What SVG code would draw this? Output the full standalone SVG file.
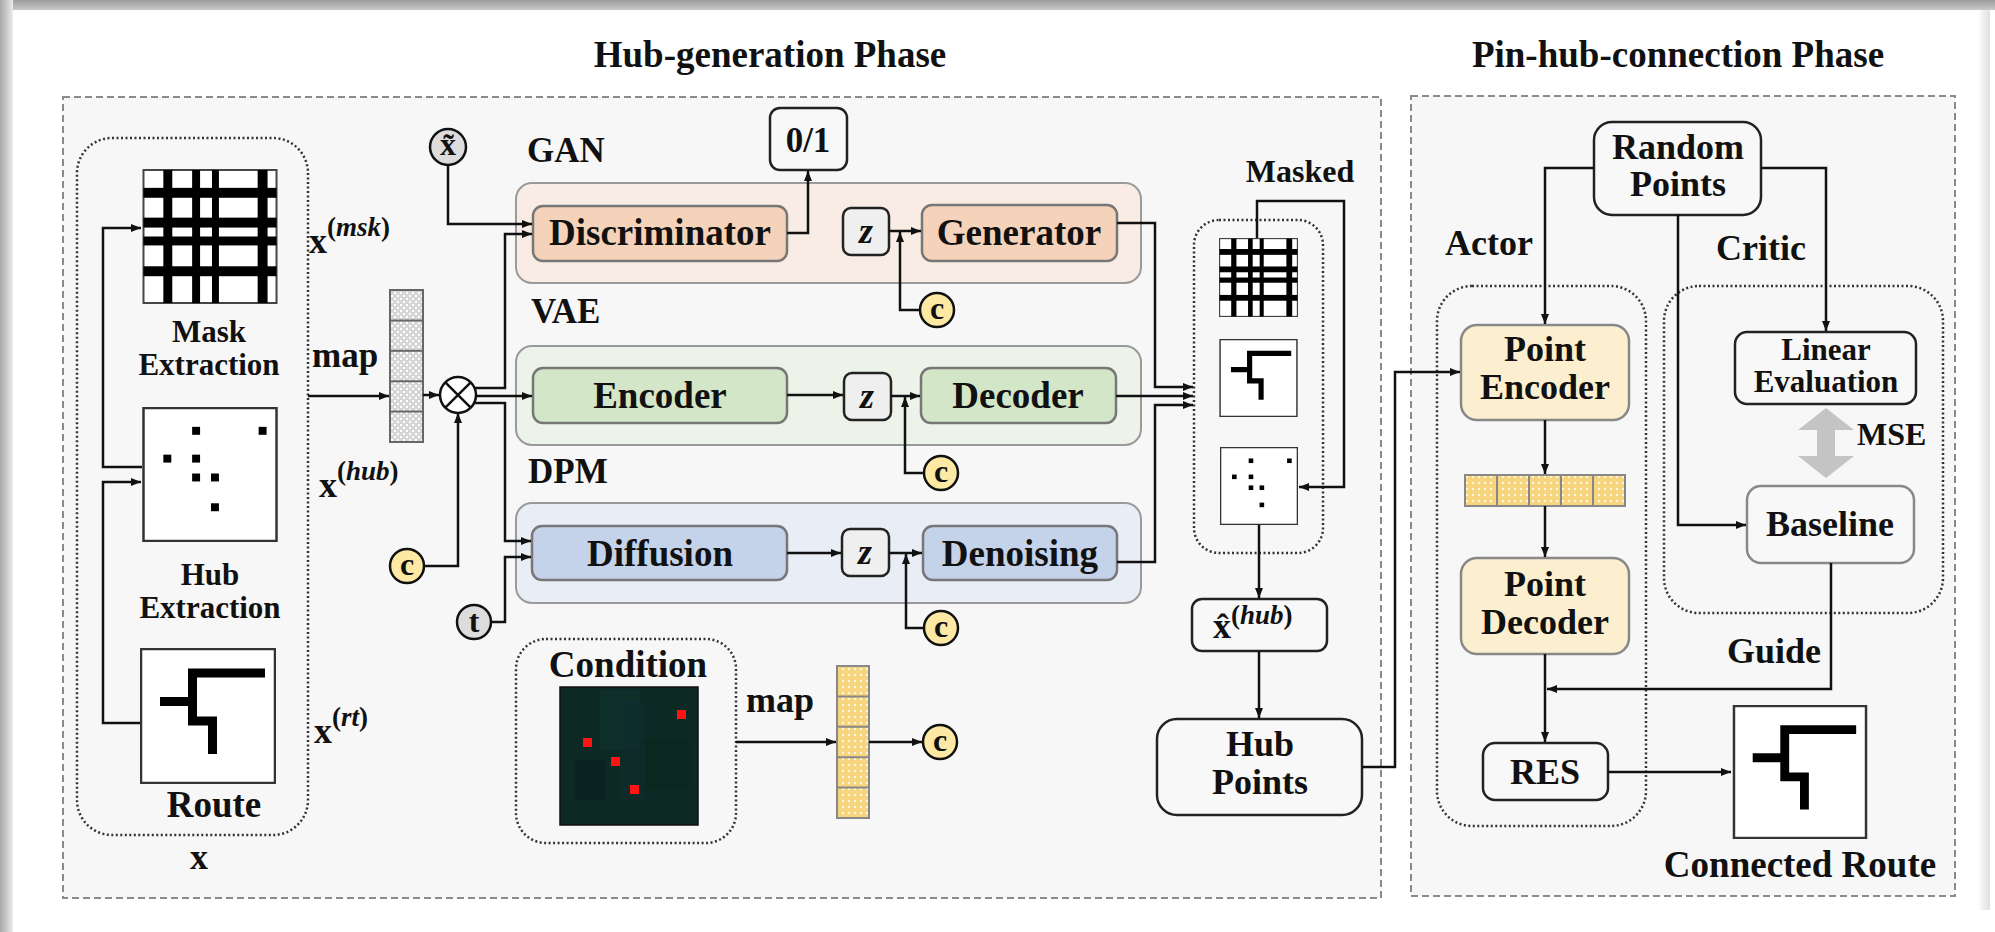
<svg xmlns="http://www.w3.org/2000/svg" width="1995" height="932" viewBox="0 0 1995 932">
<defs>
<style>
.t{font-family:"Liberation Serif","Times New Roman","DejaVu Serif",serif;font-weight:bold;fill:#111;text-anchor:middle}
.l{text-anchor:start}
.s31{font-size:31px}.s32{font-size:32px}.s35{font-size:35px}.s36{font-size:36px}.s37{font-size:37px}
.it{font-style:italic}
.box{fill:#f8f8f8;stroke:#222;stroke-width:2.5}
.dash{fill:#f7f7f7;stroke:#8a8a8a;stroke-width:2;stroke-dasharray:7 4}
.dot{fill:none;stroke:#333;stroke-width:2.5;stroke-dasharray:2 2.5}
.ln{fill:none;stroke:#111;stroke-width:2.5}
.arr{marker-end:url(#ah)}
.zb{fill:#efefef;stroke:#222;stroke-width:2.5}
.cc{fill:#fde8a4;stroke:#111;stroke-width:2.5}
.gc{fill:#dcdcdc;stroke:#111;stroke-width:2.5}
.inner{stroke:#777;stroke-width:2.5}
.cont{stroke:#9a9a9a;stroke-width:2}
</style>
<marker id="ah" viewBox="0 0 10 8" refX="10" refY="4" markerWidth="10" markerHeight="8" markerUnits="userSpaceOnUse" orient="auto"><path d="M0,0 L10,4 L0,8 z" fill="#111"/></marker>
<linearGradient id="gtop" x1="0" y1="0" x2="0" y2="1"><stop offset="0" stop-color="#9c9c9c"/><stop offset="1" stop-color="#c9c9c9"/></linearGradient>
<linearGradient id="gleft" x1="0" y1="0" x2="1" y2="0"><stop offset="0" stop-color="#a8a8a8"/><stop offset="0.6" stop-color="#d0d0d0"/><stop offset="1" stop-color="#ececec"/></linearGradient>
<linearGradient id="gright" x1="0" y1="0" x2="1" y2="0"><stop offset="0" stop-color="#ffffff"/><stop offset="1" stop-color="#dedede"/></linearGradient>
<pattern id="pgray" width="6" height="6" patternUnits="userSpaceOnUse"><rect width="6" height="6" fill="#d6d6d6"/><rect x="1" y="1" width="2" height="2" fill="#fff"/><rect x="4" y="4" width="2" height="2" fill="#fff"/></pattern>
<pattern id="pyel" width="6" height="6" patternUnits="userSpaceOnUse"><rect width="6" height="6" fill="#f6d57e"/><circle cx="3" cy="3" r="1.2" fill="#fff7dc"/></pattern>
<symbol id="mask" viewBox="0 0 136 136">
<rect x="1" y="1" width="134" height="134" fill="#fff" stroke="#444" stroke-width="2"/>
<g fill="#000"><rect x="21" y="1" width="9" height="134"/><rect x="50" y="1" width="8" height="134"/><rect x="70" y="1" width="7" height="134"/><rect x="116" y="1" width="10" height="134"/>
<rect x="1" y="19" width="134" height="10"/><rect x="1" y="49" width="134" height="10"/><rect x="1" y="68" width="134" height="9"/><rect x="1" y="98" width="134" height="10"/></g>
</symbol>
<symbol id="hub" viewBox="0 0 136 136">
<rect x="1" y="1" width="134" height="134" fill="#fff" stroke="#333" stroke-width="2.5"/>
<g fill="#000"><rect x="50" y="20" width="8" height="8"/><rect x="117" y="20" width="8" height="8"/><rect x="21" y="48" width="8" height="8"/><rect x="50" y="48" width="8" height="8"/><rect x="50" y="67" width="8" height="8"/><rect x="69" y="67" width="8" height="8"/><rect x="69" y="97" width="8" height="8"/></g>
</symbol>
<symbol id="route" viewBox="0 0 136 136">
<rect x="1" y="1" width="134" height="134" fill="#fff" stroke="#333" stroke-width="2.5"/>
<path d="M125 25 H52.5 V73 H72.5 V106 M20 53.5 H52.5" fill="none" stroke="#000" stroke-width="9" stroke-linejoin="miter"/>
</symbol>
</defs>

<rect width="1995" height="932" fill="#fff"/>
<rect x="0" y="0" width="1995" height="10" fill="url(#gtop)"/>
<rect x="0" y="0" width="13" height="932" fill="url(#gleft)"/>
<rect x="1978" y="10" width="12" height="900" fill="url(#gright)"/>

<g id="phase-hub-generation">
<rect class="dash" x="63" y="97" width="1318" height="801"/>
<text class="t s37" x="770" y="67">Hub-generation Phase</text>
</g>
<g id="phase-pin-hub">
<rect class="dash" x="1411" y="96" width="544" height="800"/>
<text class="t s37" x="1678" y="67">Pin-hub-connection Phase</text>
</g>

<g id="input-x">
<rect class="dot" x="77" y="138" width="231" height="697" rx="35"/>
<use href="#mask" x="142" y="169" width="136" height="135"/>
<text class="t s31" x="209" y="342">Mask</text>
<text class="t s31" x="209" y="375">Extraction</text>
<use href="#hub" x="142" y="407" width="136" height="135"/>
<text class="t s31" x="210" y="585">Hub</text>
<text class="t s31" x="210" y="618">Extraction</text>
<use href="#route" x="140" y="648" width="136" height="136"/>
<text class="t s37" x="214" y="817">Route</text>
<text class="t s36" x="199" y="869">x</text>
</g>
<g id="labels-x">
<text class="t l s36" x="309" y="253">x<tspan font-size="27" dy="-17">(</tspan><tspan class="it" font-size="27">msk</tspan><tspan font-size="27">)</tspan></text>
<text class="t l s36" x="319" y="497">x<tspan font-size="27" dy="-17">(</tspan><tspan class="it" font-size="27">hub</tspan><tspan font-size="27">)</tspan></text>
<text class="t l s36" x="314" y="743">x<tspan font-size="27" dy="-17">(</tspan><tspan class="it" font-size="27">rt</tspan><tspan font-size="27">)</tspan></text>
<text class="t l s35" x="312" y="367">map</text>
</g>

<g id="map-vector">
<rect x="390" y="290" width="33" height="152" fill="url(#pgray)" stroke="#666" stroke-width="2"/>
<path d="M390 320.4 H423 M390 350.8 H423 M390 381.2 H423 M390 411.6 H423" stroke="#666" stroke-width="2"/>
</g>
<g id="otimes">
<circle cx="458" cy="395" r="18" fill="#fff" stroke="#111" stroke-width="2.5"/>
<path d="M445.3 382.3 L470.7 407.7 M470.7 382.3 L445.3 407.7" stroke="#111" stroke-width="2.5"/>
</g>
<g id="x-tilde"><circle class="gc" cx="448" cy="147" r="18"/><text class="t s32" x="448" y="155">x̃</text></g>
<g id="c-mul"><circle class="cc" cx="407" cy="566" r="17"/><text class="t s32" x="407" y="575">c</text></g>
<g id="t-input"><circle class="gc" cx="474" cy="622" r="17"/><text class="t s32" x="474" y="632">t</text></g>

<g id="gan">
<rect class="cont" x="516" y="183" width="625" height="100" rx="16" fill="#f9ece4"/>
<text class="t l s35" x="527" y="162">GAN</text>
</g>
<g id="discriminator"><rect class="inner" x="533" y="206" width="254" height="55" rx="10" fill="#f5d3ba"/><text class="t s37" x="660" y="245">Discriminator</text></g>
<g id="out01"><rect class="box" x="770" y="108" width="77" height="62" rx="10"/><text class="t s35" x="808" y="152">0/1</text></g>
<g id="z-gan"><rect class="zb" x="843" y="208" width="46" height="47" rx="8"/><text class="t s36 it" x="866" y="243">z</text></g>
<g id="generator"><rect class="inner" x="922" y="205" width="195" height="56" rx="10" fill="#f5d3ba"/><text class="t s37" x="1019" y="245">Generator</text></g>
<g id="c-gan"><circle class="cc" cx="937" cy="310" r="17"/><text class="t s32" x="937" y="319">c</text></g>

<g id="vae">
<rect class="cont" x="516" y="346" width="625" height="99" rx="16" fill="#edf3e9"/>
<text class="t l s35" x="531" y="323">VAE</text>
</g>
<g id="encoder"><rect class="inner" x="533" y="368" width="254" height="55" rx="10" fill="#d3e6c7"/><text class="t s37" x="660" y="408">Encoder</text></g>
<g id="z-vae"><rect class="zb" x="844" y="373" width="47" height="47" rx="8"/><text class="t s36 it" x="867" y="408">z</text></g>
<g id="decoder"><rect class="inner" x="921" y="368" width="195" height="55" rx="10" fill="#d3e6c7"/><text class="t s37" x="1018" y="408">Decoder</text></g>
<g id="c-vae"><circle class="cc" cx="941" cy="473" r="17"/><text class="t s32" x="941" y="482">c</text></g>

<g id="dpm">
<rect class="cont" x="516" y="503" width="625" height="100" rx="16" fill="#e9edf6"/>
<text class="t l s35" x="528" y="483">DPM</text>
</g>
<g id="diffusion"><rect class="inner" x="532" y="526" width="255" height="54" rx="10" fill="#c4d2ea"/><text class="t s37" x="660" y="566">Diffusion</text></g>
<g id="z-dpm"><rect class="zb" x="842" y="529" width="47" height="47" rx="8"/><text class="t s36 it" x="865" y="564">z</text></g>
<g id="denoising"><rect class="inner" x="923" y="526" width="194" height="54" rx="10" fill="#c4d2ea"/><text class="t s37" x="1020" y="566">Denoising</text></g>
<g id="c-dpm"><circle class="cc" cx="941" cy="628" r="17"/><text class="t s32" x="941" y="637">c</text></g>

<g id="condition">
<rect class="dot" x="516" y="639" width="220" height="204" rx="30"/>
<text class="t s37" x="628" y="677">Condition</text>
<rect x="560" y="687" width="138" height="138" fill="#0d2923" stroke="#111" stroke-width="1.5"/>
<rect x="600" y="690" width="40" height="60" fill="#10322d" opacity="0.7"/>
<rect x="640" y="740" width="50" height="50" fill="#0a2620" opacity="0.7"/>
<rect x="575" y="760" width="30" height="40" fill="#0b2221" opacity="0.7"/>
<rect x="620" y="700" width="25" height="100" fill="#0f2c30" opacity="0.5"/>
<g fill="#ff1414"><rect x="677" y="710" width="9" height="9"/><rect x="583" y="738" width="9" height="9"/><rect x="611" y="757" width="9" height="9"/><rect x="630" y="785" width="9" height="9"/></g>
</g>
<g id="cond-map-label"><text class="t l s36" x="746" y="712">map</text></g>
<g id="cond-vector">
<rect x="837" y="666" width="32" height="152" fill="url(#pyel)" stroke="#888" stroke-width="2"/>
<path d="M837 696.4 H869 M837 726.8 H869 M837 757.2 H869 M837 787.6 H869" stroke="#888" stroke-width="2"/>
</g>
<g id="c-cond"><circle class="cc" cx="940" cy="742" r="17"/><text class="t s32" x="940" y="751">c</text></g>

<g id="masked">
<rect class="dot" x="1194" y="220" width="129" height="333" rx="25"/>
<text class="t s32" x="1300" y="182">Masked</text>
<use href="#mask" x="1219" y="238" width="79" height="79"/>
<use href="#route" x="1219" y="339" width="79" height="78"/>
<use href="#hub" x="1220" y="447" width="78" height="78"/>
</g>
<g id="x-hat"><rect class="box" x="1192" y="599" width="135" height="52" rx="10"/><text class="t l s36" x="1213" y="638">x̂<tspan font-size="27" dy="-14">(</tspan><tspan class="it" font-size="27">hub</tspan><tspan font-size="27">)</tspan></text></g>
<g id="hub-points"><rect class="box" x="1157" y="719" width="205" height="96" rx="20"/><text class="t s36" x="1260" y="756">Hub</text><text class="t s36" x="1260" y="794">Points</text></g>

<g id="random-points"><rect class="box" x="1594" y="122" width="167" height="93" rx="18"/><text class="t s36" x="1678" y="159">Random</text><text class="t s36" x="1678" y="196">Points</text></g>
<g id="actor"><rect class="dot" x="1437" y="286" width="209" height="540" rx="35"/><text class="t s36" x="1489" y="255">Actor</text></g>
<g id="critic"><rect class="dot" x="1664" y="286" width="279" height="327" rx="35"/><text class="t s36" x="1761" y="260">Critic</text></g>
<g id="point-encoder"><rect x="1461" y="325" width="168" height="95" rx="16" fill="#fcefcf" stroke="#888" stroke-width="2.5"/><text class="t s36" x="1545" y="361">Point</text><text class="t s36" x="1545" y="399">Encoder</text></g>
<g id="feature-vector">
<rect x="1465" y="475" width="160" height="31" fill="url(#pyel)" stroke="#888" stroke-width="2"/>
<path d="M1497 475 V506 M1529 475 V506 M1561 475 V506 M1593 475 V506" stroke="#888" stroke-width="2"/>
</g>
<g id="point-decoder"><rect x="1461" y="558" width="168" height="96" rx="16" fill="#fcefcf" stroke="#888" stroke-width="2.5"/><text class="t s36" x="1545" y="596">Point</text><text class="t s36" x="1545" y="634">Decoder</text></g>
<g id="res"><rect class="box" x="1483" y="743" width="125" height="57" rx="12"/><text class="t s36" x="1545" y="784">RES</text></g>
<g id="linear-eval"><rect class="box" x="1735" y="332" width="181" height="72" rx="12"/><text class="t s31" x="1826" y="360">Linear</text><text class="t s31" x="1826" y="392">Evaluation</text></g>
<g id="mse">
<polygon points="1826,408 1854,430 1835,430 1835,456 1854,456 1826,478 1798,456 1817,456 1817,430 1798,430" fill="#c4c4c4"/>
<text class="t l s32" x="1857" y="445">MSE</text>
</g>
<g id="baseline"><rect x="1747" y="486" width="167" height="77" rx="14" fill="#f8f8f8" stroke="#888" stroke-width="2.5"/><text class="t s36" x="1830" y="536">Baseline</text></g>
<g id="guide-label"><text class="t s36" x="1774" y="663">Guide</text></g>
<g id="connected-route">
<use href="#route" x="1732" y="705" width="136" height="134"/>
<text class="t s37" x="1800" y="877">Connected Route</text>
</g>

<g id="connectors">
<path class="ln arr" d="M142 467 H103 V228 H141"/>
<path class="ln arr" d="M140 723 H103 V482 H141"/>
<path class="ln arr" d="M308 396 H389"/>
<path class="ln arr" d="M423 395 H439"/>
<path class="ln arr" d="M424 566 H458 V413"/>
<path class="ln arr" d="M474 388 H505 V234 H532"/>
<path class="ln arr" d="M476 396 H532"/>
<path class="ln arr" d="M474 403 H505 V541 H531"/>
<path class="ln arr" d="M491 622 H505 V557 H531"/>
<path class="ln arr" d="M448 165 V224 H532"/>
<path class="ln arr" d="M787 233 H808 V171"/>
<path class="ln arr" d="M889 231 H921"/>
<path class="ln arr" d="M920 310 H900 V232"/>
<path class="ln arr" d="M787 395 H843"/>
<path class="ln arr" d="M891 396 H920"/>
<path class="ln arr" d="M924 473 H905 V397"/>
<path class="ln arr" d="M787 553 H841"/>
<path class="ln arr" d="M889 553 H922"/>
<path class="ln arr" d="M924 628 H906 V554"/>
<path class="ln arr" d="M1117 223 H1155 V387 H1193"/>
<path class="ln arr" d="M1116 396 H1193"/>
<path class="ln arr" d="M1117 562 H1155 V405 H1193"/>
<path class="ln arr" d="M1257 238 V201 H1344 V487 H1299"/>
<path class="ln arr" d="M1259 525 V598"/>
<path class="ln arr" d="M1259 651 V718"/>
<path class="ln arr" d="M736 742 H836"/>
<path class="ln arr" d="M869 742 H922"/>
<path class="ln arr" d="M1362 767 H1395 V372 H1460"/>
<path class="ln arr" d="M1594 168 H1545 V324"/>
<path class="ln arr" d="M1761 168 H1826 V331"/>
<path class="ln arr" d="M1678 215 V525 H1746"/>
<path class="ln arr" d="M1545 420 V474"/>
<path class="ln arr" d="M1545 506 V557"/>
<path class="ln arr" d="M1545 654 V742"/>
<path class="ln arr" d="M1831 563 V689 H1547"/>
<path class="ln arr" d="M1608 772 H1731"/>
</g>
</svg>
